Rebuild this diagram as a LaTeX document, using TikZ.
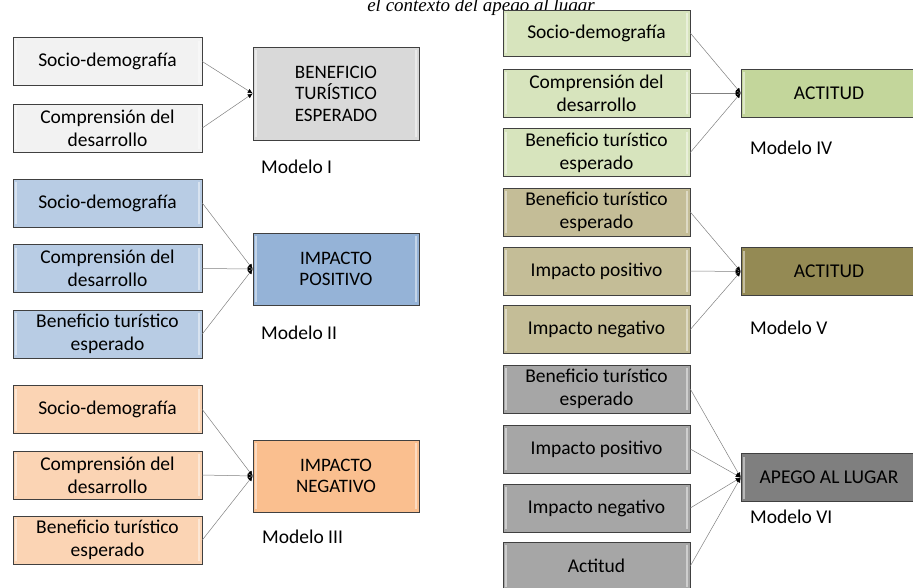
\documentclass[tikz,border=0pt]{standalone}
\usepackage{fontspec}
\setmainfont{Carlito}
\newfontfamily\titlefont{Liberation Serif}
\usetikzlibrary{arrows.meta}
\definecolor{gA}{HTML}{F2F2F2}\definecolor{gB}{HTML}{D9D9D9}
\definecolor{bA}{HTML}{B8CCE4}\definecolor{bB}{HTML}{95B3D7}
\definecolor{oA}{HTML}{FBD4B4}\definecolor{oB}{HTML}{FABF8F}
\definecolor{vA}{HTML}{D7E4BD}\definecolor{vB}{HTML}{C3D69B}
\definecolor{kA}{HTML}{C4BD97}\definecolor{kB}{HTML}{948A54}
\definecolor{dA}{HTML}{A6A6A6}\definecolor{dB}{HTML}{7F7F7F}
\tikzset{
  box/.style={draw=black!75, line width=0.6pt, align=center, inner sep=2pt,
    font=\fontsize{19.5}{23}\selectfont,
    path picture={
      \fill[white,opacity=0.45] ([xshift=2pt,yshift=-3pt]path picture bounding box.north west) rectangle ([xshift=4pt,yshift=3pt]path picture bounding box.south west);
      \fill[white,opacity=0.45] ([xshift=-4pt,yshift=-3pt]path picture bounding box.north east) rectangle ([xshift=-2pt,yshift=3pt]path picture bounding box.south east);
    }},
  srcL/.style={box, minimum width=189pt, minimum height=48pt},
  srcR/.style={box, minimum width=187pt, minimum height=48pt},
  tgtL/.style={box, minimum width=166pt, font=\fontsize{19}{21.5}\selectfont},
  tgtR/.style={box, minimum width=176pt, minimum height=48pt},
  lbl/.style={anchor=west, font=\fontsize{19.5}{22}\selectfont, inner sep=0pt},
  conn/.style={draw=black!50, line width=0.5pt, -{Latex[length=5pt,width=4.5pt,black]}},
}
\begin{document}
\begin{tikzpicture}[x=1pt,y=-1pt]
\useasboundingbox (0,0) rectangle (913,587);
\node[font=\titlefont\itshape\fontsize{19}{21}\selectfont, anchor=base, inner sep=0pt] (title) at (481,11) {el contexto del apego al lugar};
% Modelo I
\node[srcL, fill=gA] (m1a) at (107.5,61.5) {Socio-demografía};
\node[srcL, fill=gA] (m1b) at (107.5,128) {Comprensión del\\desarrollo};
\node[tgtL, fill=gB, minimum height=93pt] (m1t) at (336,93.5) {BENEFICIO\\TURÍSTICO\\ESPERADO};
\node[lbl] (m1l) at (261,167) {Modelo I};
\foreach \s in {m1a,m1b} \draw[conn] (\s.east) -- (m1t.west);
% Modelo II
\node[srcL, fill=bA] (m2a) at (107.5,203) {Socio-demografía};
\node[srcL, fill=bA] (m2b) at (107.5,268.5) {Comprensión del\\desarrollo};
\node[srcL, fill=bA] (m2c) at (107.5,334) {Beneficio turístico\\esperado};
\node[tgtL, fill=bB, minimum height=72pt] (m2t) at (336,269) {IMPACTO\\POSITIVO};
\node[lbl] (m2l) at (261,333) {Modelo II};
\foreach \s in {m2a,m2b,m2c} \draw[conn] (\s.east) -- (m2t.west);
% Modelo III
\node[srcL, fill=oA] (m3a) at (107.5,409.5) {Socio-demografía};
\node[srcL, fill=oA] (m3b) at (107.5,475) {Comprensión del\\desarrollo};
\node[srcL, fill=oA] (m3c) at (107.5,540) {Beneficio turístico\\esperado};
\node[tgtL, fill=oB, minimum height=72pt] (m3t) at (336,476) {IMPACTO\\NEGATIVO};
\node[lbl] (m3l) at (262,537) {Modelo III};
\foreach \s in {m3a,m3b,m3c} \draw[conn] (\s.east) -- (m3t.west);
% Modelo IV
\node[srcR, fill=vA, minimum height=46pt] (m4a) at (596.5,33) {Socio-demografía};
\node[srcR, fill=vA] (m4b) at (596.5,93) {Comprensión del\\desarrollo};
\node[srcR, fill=vA] (m4c) at (596.5,152.5) {Beneficio turístico\\esperado};
\node[tgtR, fill=vB] (m4t) at (829,93) {ACTITUD};
\node[lbl] (m4l) at (750,148) {Modelo IV};
\foreach \s in {m4a,m4b,m4c} \draw[conn] (\s.east) -- (m4t.west);
% Modelo V
\node[srcR, fill=kA] (m5a) at (596.5,212) {Beneficio turístico\\esperado};
\node[srcR, fill=kA] (m5b) at (596.5,271) {Impacto positivo};
\node[srcR, fill=kA] (m5c) at (596.5,329.5) {Impacto negativo};
\node[tgtR, fill=kB] (m5t) at (829,271.5) {ACTITUD};
\node[lbl] (m5l) at (750,328) {Modelo V};
\foreach \s in {m5a,m5b,m5c} \draw[conn] (\s.east) -- (m5t.west);
% Modelo VI
\node[srcR, fill=dA] (m6a) at (596.5,389) {Beneficio turístico\\esperado};
\node[srcR, fill=dA] (m6b) at (596.5,449) {Impacto positivo};
\node[srcR, fill=dA] (m6c) at (596.5,508) {Impacto negativo};
\node[srcR, fill=dA] (m6d) at (596.5,566) {Actitud};
\node[tgtR, fill=dB] (m6t) at (829,477.5) {APEGO AL LUGAR};
\node[lbl] (m6l) at (750,517) {Modelo VI};
\foreach \s in {m6a,m6b,m6c,m6d} \draw[conn] (\s.east) -- (m6t.west);
\end{tikzpicture}
\end{document}
